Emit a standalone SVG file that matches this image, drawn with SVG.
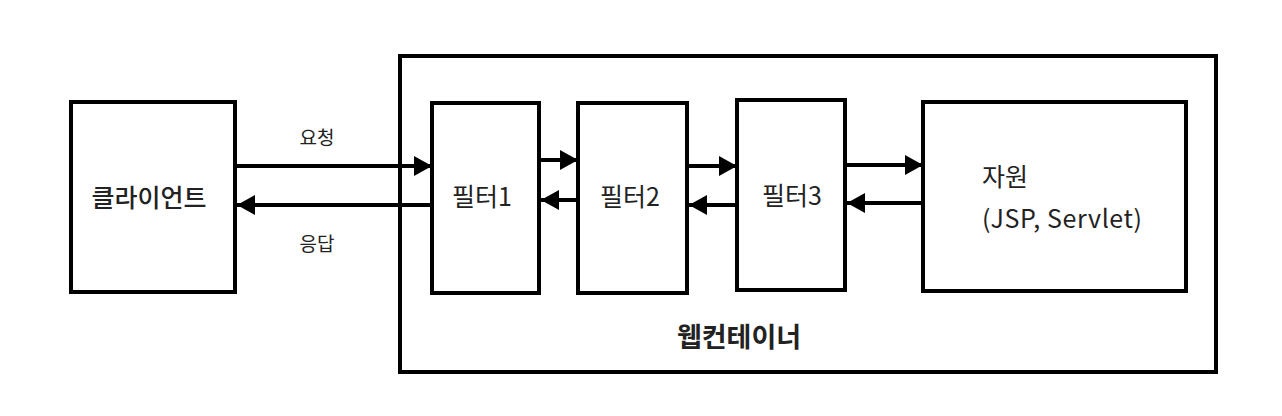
<svg xmlns="http://www.w3.org/2000/svg" width="1282" height="416" viewBox="0 0 1282 416">
<defs>
<marker id="ah" markerWidth="18" markerHeight="20" refX="18" refY="10" orient="auto" markerUnits="userSpaceOnUse">
<path d="M0,0 L18,10 L0,20 Z" fill="#000"/>
</marker>
<style>
.box{fill:#fff;stroke:#000;stroke-width:4}
.t{font-family:"Noto Sans CJK KR","Noto Sans",sans-serif;font-size:25px;fill:#222;text-anchor:middle}
.s{font-size:19px}
.c{stroke:#000;stroke-width:4;fill:none;marker-end:url(#ah)}
</style>
</defs>
<rect width="1282" height="416" fill="#fff"/>
<g id="container">
<rect class="box" x="400" y="56" width="816" height="316"/>
<text class="t" x="739" y="347" style="font-size:27px;font-weight:bold">웹컨테이너</text>
</g>
<g id="client">
<rect class="box" x="71" y="102" width="164" height="190"/>
<text class="t" x="149" y="207" style="font-weight:500">클라이언트</text>
</g>
<g id="filter1">
<rect class="box" x="432" y="103" width="107" height="190"/>
<text class="t" x="482" y="206">필터1</text>
</g>
<g id="filter2">
<rect class="box" x="578" y="103" width="109" height="190"/>
<text class="t" x="630" y="206">필터2</text>
</g>
<g id="filter3">
<rect class="box" x="737" y="100" width="108" height="190"/>
<text class="t" x="792" y="205">필터3</text>
</g>
<g id="resource">
<rect class="box" x="923" y="102" width="263" height="189"/>
<text class="t" x="982" y="186" style="text-anchor:start">자원</text>
<text class="t" x="982" y="228" style="text-anchor:start;letter-spacing:0.6px">(JSP, Servlet)</text>
</g>
<g id="connectors">
<line class="c" x1="235" y1="166" x2="432" y2="166"/>
<line class="c" x1="432" y1="205" x2="237" y2="205"/>
<line class="c" x1="539" y1="160" x2="578" y2="160"/>
<line class="c" x1="578" y1="200" x2="541" y2="200"/>
<line class="c" x1="687" y1="166" x2="737" y2="166"/>
<line class="c" x1="737" y1="205" x2="689" y2="205"/>
<line class="c" x1="845" y1="165" x2="923" y2="165"/>
<line class="c" x1="923" y1="203" x2="847" y2="203"/>
<text class="t s" x="317" y="145">요청</text>
<text class="t s" x="317" y="251">응답</text>
</g>
</svg>
